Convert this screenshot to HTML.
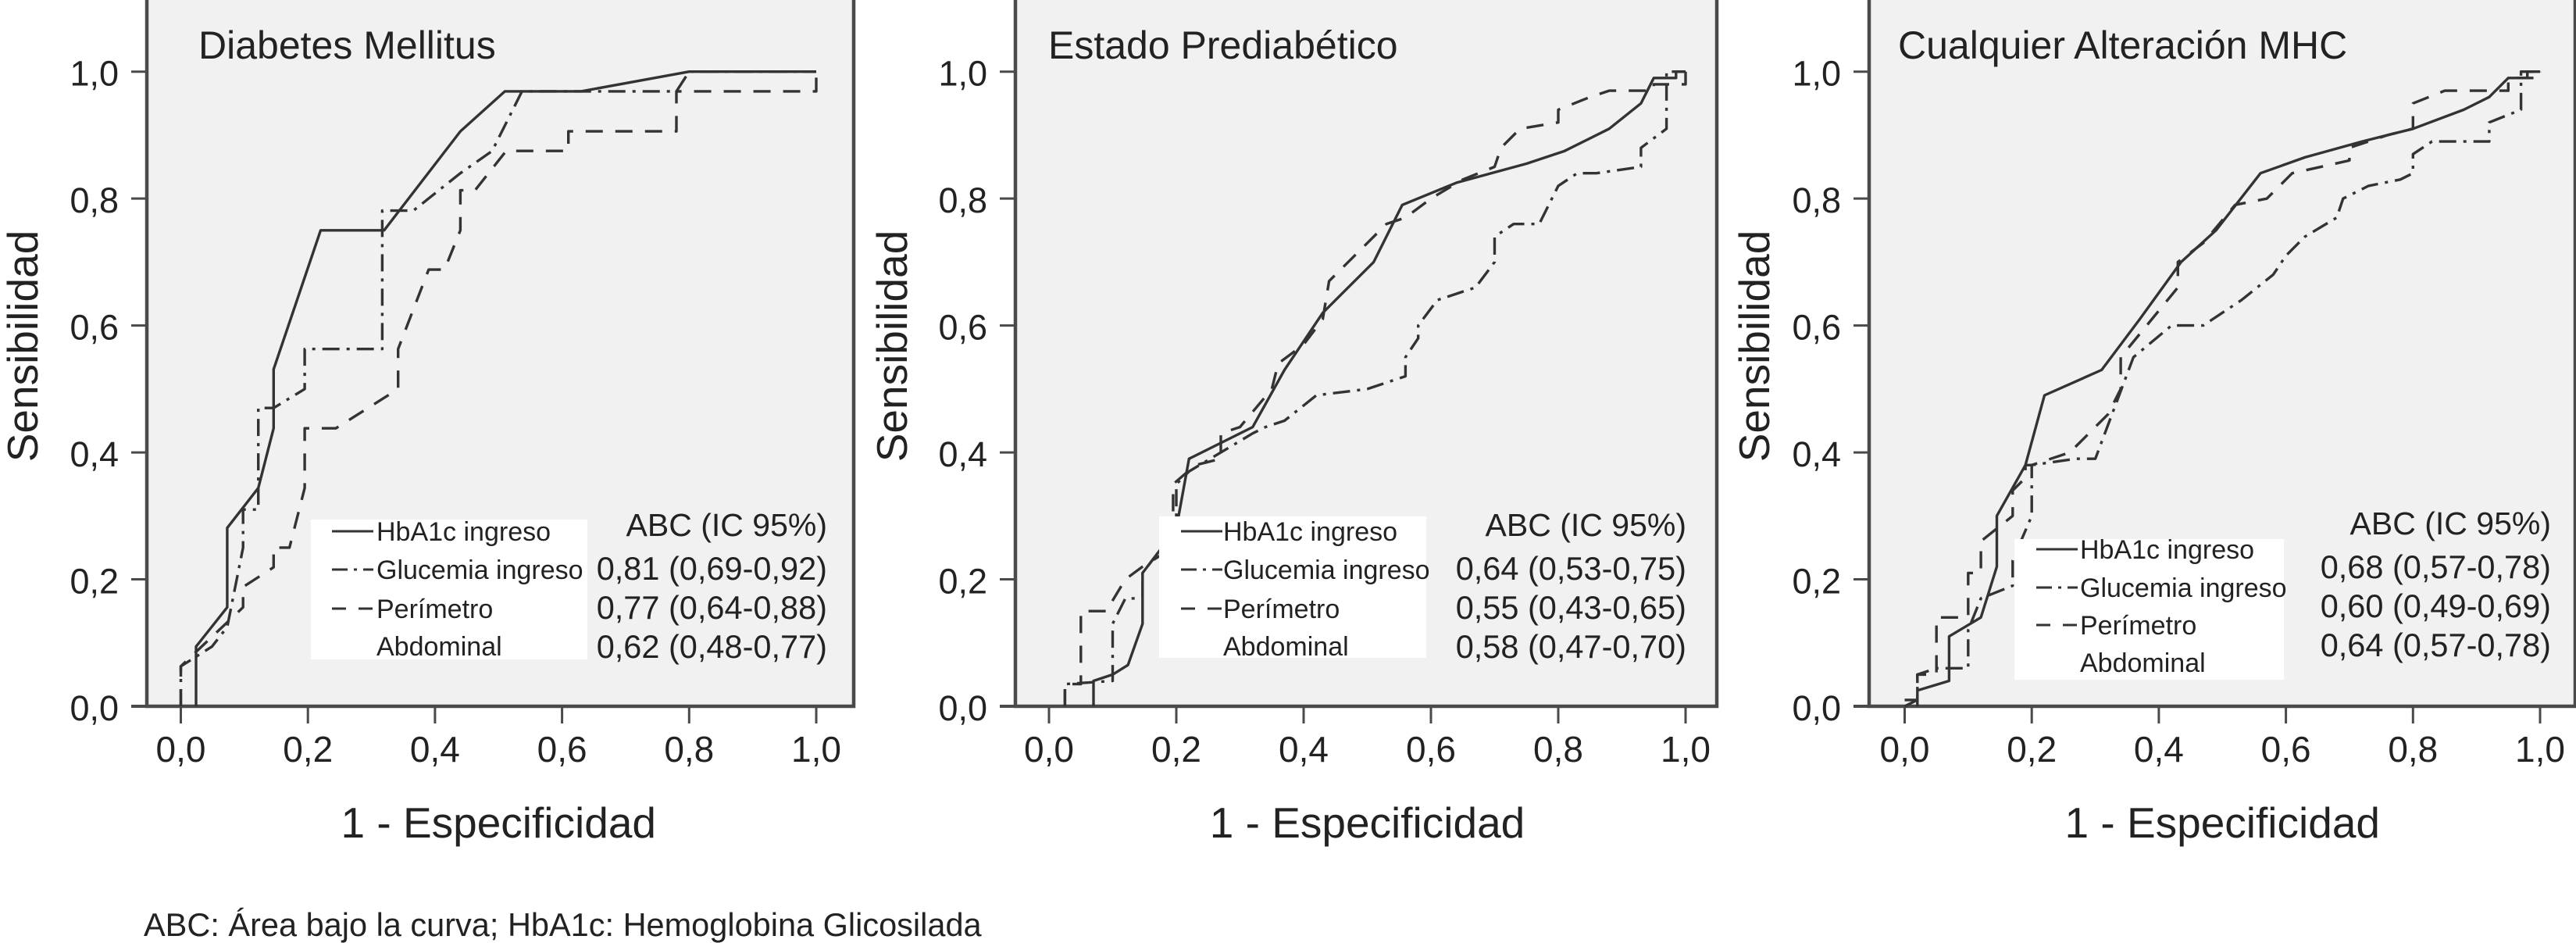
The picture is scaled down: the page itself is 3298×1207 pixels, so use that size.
<!DOCTYPE html>
<html><head><meta charset="utf-8"><style>
html,body{margin:0;padding:0;background:#fff;}
svg{display:block;font-family:"Liberation Sans",Arial,sans-serif;}
</style></head><body>
<svg id="chart" width="3298" height="1207" viewBox="0 0 3298 1207" xmlns="http://www.w3.org/2000/svg">
<text x="184" y="1198" font-size="41.5" fill="#222">ABC: Área bajo la curva; HbA1c: Hemoglobina Glicosilada</text>
</svg>
<script>
const titles = ["Diabetes Mellitus", "Estado Prediabético", "Cualquier Alteración MHC"];
const xTicks = [0, 0.2, 0.4, 0.6, 0.8, 1.0];
const yTicks = [0, 0.2, 0.4, 0.6, 0.8, 1.0];
const tickLabels = ["0,0", "0,2", "0,4", "0,6", "0,8", "1,0"];
const seriesNames = ["HbA1c ingreso", "Glucemia ingreso", "Perímetro", "Abdominal"];
const aucDM = ["0,81 (0,69-0,92)", "0,77 (0,64-0,88)", "0,62 (0,48-0,77)"];
const aucPre = ["0,64 (0,53-0,75)", "0,55 (0,43-0,65)", "0,58 (0,47-0,70)"];
const aucAny = ["0,68 (0,57-0,78)", "0,60 (0,49-0,69)", "0,64 (0,57-0,78)"];

const dmHba1c = [[0.024,0],[0.024,0.094],[0.073,0.156],[0.073,0.281],[0.122,0.344],[0.146,0.438],[0.146,0.531],[0.22,0.75],[0.32,0.75],[0.44,0.906],[0.51,0.969],[0.63,0.969],[0.8,1.0],[1,1]];
const dmGluc = [[0,0],[0,0.063],[0.049,0.094],[0.073,0.125],[0.098,0.25],[0.098,0.31],[0.122,0.31],[0.122,0.47],[0.146,0.47],[0.195,0.5],[0.195,0.563],[0.317,0.563],[0.317,0.781],[0.366,0.781],[0.44,0.84],[0.49,0.875],[0.537,0.969],[0.78,0.969],[0.8,1.0],[1,1]];
const dmPer = [[0,0],[0,0.063],[0.098,0.156],[0.098,0.188],[0.146,0.219],[0.146,0.25],[0.171,0.25],[0.195,0.344],[0.195,0.438],[0.244,0.438],[0.342,0.5],[0.342,0.563],[0.39,0.688],[0.415,0.688],[0.44,0.75],[0.44,0.813],[0.463,0.813],[0.512,0.875],[0.61,0.875],[0.61,0.906],[0.78,0.906],[0.78,0.969],[1,0.969],[1,1]];

const preHba1c = [[0.07,0],[0.07,0.04],[0.1,0.05],[0.124,0.065],[0.147,0.13],[0.147,0.21],[0.2,0.28],[0.22,0.39],[0.32,0.44],[0.37,0.53],[0.43,0.62],[0.51,0.7],[0.555,0.79],[0.64,0.825],[0.75,0.855],[0.81,0.875],[0.88,0.91],[0.93,0.95],[0.95,0.99],[0.985,0.99],[0.985,1],[1,1]];
const preGluc = [[0.025,0],[0.025,0.035],[0.1,0.04],[0.1,0.13],[0.12,0.17],[0.147,0.17],[0.147,0.21],[0.17,0.24],[0.2,0.29],[0.2,0.35],[0.22,0.37],[0.32,0.43],[0.34,0.44],[0.37,0.45],[0.42,0.49],[0.5,0.5],[0.56,0.52],[0.56,0.55],[0.58,0.58],[0.58,0.6],[0.61,0.64],[0.67,0.66],[0.7,0.7],[0.7,0.74],[0.73,0.76],[0.77,0.76],[0.8,0.82],[0.83,0.84],[0.86,0.84],[0.93,0.85],[0.93,0.88],[0.97,0.91],[0.97,1],[1,1]];
const prePer = [[0.025,0],[0.025,0.035],[0.05,0.035],[0.05,0.15],[0.09,0.15],[0.12,0.2],[0.147,0.22],[0.195,0.25],[0.195,0.35],[0.23,0.38],[0.27,0.39],[0.27,0.43],[0.3,0.44],[0.35,0.5],[0.36,0.54],[0.4,0.57],[0.43,0.61],[0.44,0.67],[0.48,0.71],[0.53,0.76],[0.56,0.77],[0.6,0.8],[0.65,0.83],[0.7,0.85],[0.71,0.88],[0.74,0.91],[0.8,0.92],[0.8,0.94],[0.85,0.96],[0.88,0.97],[0.95,0.97],[0.95,0.98],[1,0.98],[1,1]];

const anyHba1c = [[0.02,0],[0.02,0.025],[0.07,0.04],[0.07,0.11],[0.12,0.14],[0.145,0.22],[0.145,0.3],[0.19,0.38],[0.22,0.49],[0.31,0.53],[0.37,0.61],[0.435,0.7],[0.49,0.75],[0.56,0.84],[0.63,0.865],[0.72,0.89],[0.8,0.91],[0.88,0.94],[0.92,0.96],[0.95,0.99],[0.98,0.99],[0.98,1],[1,1]];
const anyGluc = [[0,0],[0.02,0.01],[0.02,0.05],[0.05,0.06],[0.1,0.06],[0.1,0.12],[0.12,0.17],[0.145,0.18],[0.17,0.19],[0.17,0.23],[0.2,0.3],[0.2,0.38],[0.27,0.39],[0.3,0.39],[0.36,0.55],[0.42,0.6],[0.47,0.6],[0.53,0.64],[0.58,0.68],[0.6,0.71],[0.63,0.74],[0.68,0.77],[0.69,0.8],[0.73,0.82],[0.78,0.83],[0.8,0.84],[0.8,0.87],[0.83,0.89],[0.92,0.89],[0.92,0.92],[0.97,0.94],[0.97,1],[1,1]];
const anyPer = [[0,0.01],[0.02,0.01],[0.02,0.05],[0.05,0.05],[0.05,0.14],[0.1,0.14],[0.1,0.21],[0.12,0.21],[0.12,0.26],[0.17,0.3],[0.17,0.34],[0.19,0.36],[0.19,0.38],[0.2,0.38],[0.26,0.4],[0.27,0.41],[0.32,0.46],[0.34,0.5],[0.34,0.55],[0.43,0.66],[0.43,0.7],[0.47,0.73],[0.52,0.79],[0.57,0.8],[0.61,0.84],[0.7,0.86],[0.7,0.88],[0.76,0.9],[0.8,0.91],[0.8,0.95],[0.85,0.97],[0.95,0.97],[0.95,0.99],[1,0.99],[1,1]];

const NS = "http://www.w3.org/2000/svg";
const svg = document.getElementById("chart");
function mk(tag, attrs, parent){ const e=document.createElementNS(NS,tag); for(const k in attrs) e.setAttribute(k,attrs[k]); (parent||svg).appendChild(e); return e; }

const panels = [
 {fl:188, fr:1093, x0:231.5, x1:1045, title:titles[0], tx:254, ycx:48, auc:aucDM, data:[dmHba1c,dmGluc,dmPer], box:[398,665,354,179], ls:425, lt:482, lrows:[680,729,779,827], arx:1059, arows:[671,727,777,827], key:"dm"},
 {fl:1300, fr:2198, x0:1343, x1:2158, title:titles[1], tx:1342, ycx:1161, auc:aucPre, data:[preHba1c,preGluc,prePer], box:[1484,661,342,181], ls:1512, lt:1566, lrows:[680,729,779,827], arx:2159, arows:[671,727,777,827], key:"prediabetes"},
 {fl:2393, fr:3297, x0:2438.5, x1:3252, title:titles[2], tx:2430, ycx:2265, auc:aucAny, data:[anyHba1c,anyGluc,anyPer], box:[2579,690,345,180], ls:2607, lt:2663, lrows:[703,752,800,848], arx:3266, arows:[669,725,775,825], key:"any-alteration"}
];
const Y0 = 904, Y1 = 91.7;
const dashes = ["none", "22 9 4 9", "22 16"];

panels.forEach(p => {
  const g = mk("g", {});
  
  
  const sx = v => p.x0 + v*(p.x1-p.x0);
  const sy = v => Y0 - v*(Y0-Y1);
  const frame = mk("rect", {x:p.fl, y:-3, width:p.fr-p.fl, height:Y0+3, fill:"#f0f1f0", stroke:"#4a4a4a", "stroke-width":4.5}, g);
  
  
  yTicks.forEach((t,i) => {
    const l = mk("line", {x1:p.fl-20, x2:p.fl, y1:sy(t), y2:sy(t), stroke:"#4a4a4a", "stroke-width":3}, g);
    
    
    const tx = mk("text", {x:p.fl-36, y:sy(t)+18, "font-size":45, "text-anchor":"end", fill:"#222"}, g);
    tx.textContent = tickLabels[i];
    
    
  });
  xTicks.forEach((t,i) => {
    const l = mk("line", {x1:sx(t), x2:sx(t), y1:Y0, y2:Y0+22, stroke:"#4a4a4a", "stroke-width":3}, g);
    
    
    const tx = mk("text", {x:sx(t), y:975, "font-size":46, "text-anchor":"middle", fill:"#222"}, g);
    tx.textContent = tickLabels[i];
    
    
  });
  const ax = mk("line", {x1:p.fl-20, x2:p.fr, y1:Y0, y2:Y0, stroke:"#4a4a4a", "stroke-width":4}, g);
  
  
  const xt = mk("text", {x:(p.x0+p.x1)/2, y:1072, "font-size":55, "text-anchor":"middle", fill:"#222"}, g);
  xt.textContent = "1 - Especificidad";
  
  
  const cx = p.ycx, cy = 443;
  const yt = mk("text", {x:cx, y:cy, "font-size":55, "text-anchor":"middle", fill:"#222", transform:`rotate(-90 ${cx} ${cy})`}, g);
  yt.textContent = "Sensibilidad";
  
  
  const tt = mk("text", {x:p.tx, y:75, "font-size":50, fill:"#222"}, g);
  tt.textContent = p.title;
  
  
  const snames = ["hba1c-curve","glucemia-curve","perimetro-curve"];
  p.data.forEach((pts, si) => {
    const d = pts.map((q,k) => (k?"L":"M") + sx(q[0]).toFixed(1) + " " + sy(q[1]).toFixed(1)).join(" ");
    const path = mk("path", {d:d, fill:"none", stroke:"#333", "stroke-width":3.4, "stroke-dasharray":dashes[si], "stroke-linejoin":"round"}, g);
    
    
  });
  const lb = mk("rect", {x:p.box[0], y:p.box[1], width:p.box[2], height:p.box[3], fill:"#fff"}, g);
  
  
  [0,1,2].forEach(si => {
    const ly = p.lrows[si];
    const l = mk("line", {x1:p.ls, x2:p.ls+53, y1:ly, y2:ly, stroke:"#333", "stroke-width":3, "stroke-dasharray":si===0?"none":(si===1?"20 8 4 8":"18 16")}, g);
    
    
  });
  seriesNames.forEach((nm, si) => {
    const t = mk("text", {x:p.lt, y:p.lrows[si]+12, "font-size":34, fill:"#222"}, g);
    t.textContent = nm;
    
    
  });
  const hdr = mk("text", {x:p.arx, y:p.arows[0]+15, "font-size":41, "text-anchor":"end", fill:"#222", "xml:space":"preserve"}, g);
  hdr.textContent = "ABC  (IC 95%)";
  
  
  p.auc.forEach((a, i) => {
    const t = mk("text", {x:p.arx, y:p.arows[i+1]+15, "font-size":41.5, "text-anchor":"end", fill:"#222"}, g);
    t.textContent = a;
    
    
  });
});
</script>
</body></html>
